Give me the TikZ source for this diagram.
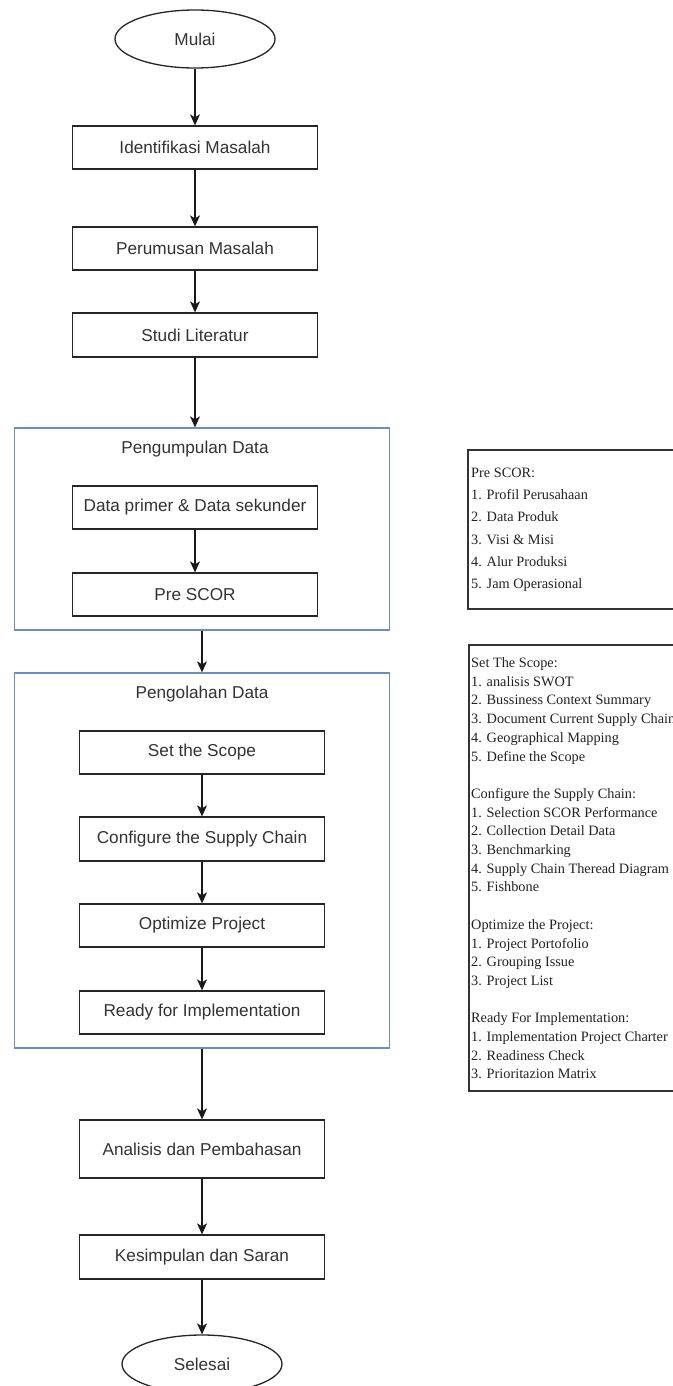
\documentclass[tikz,border=0pt]{standalone}
\usepackage{fontspec}
\setmainfont{Liberation Serif}
\newfontfamily\flowfont{Liberation Sans}
\usetikzlibrary{arrows.meta,shapes.geometric}

\definecolor{txtgray}{HTML}{333333}
\definecolor{notegray}{HTML}{222222}
\definecolor{grpblue}{HTML}{6C8EBF}

\tikzset{
  procbox/.style={draw=black!85, line width=1.3pt, rectangle,
    minimum width=245pt, minimum height=43pt, inner sep=0pt,
    text=txtgray, font=\flowfont\fontsize{17.2}{20}\selectfont},
  termbox/.style={procbox, ellipse, minimum width=160pt, minimum height=58pt},
  groupbox/.style={draw=grpblue, line width=1.3pt, rectangle,
    minimum width=375pt, inner sep=0pt},
  grouptitle/.style={text=txtgray, font=\flowfont\fontsize{17.2}{20}\selectfont},
  notebox/.style={draw=black!80, line width=1.5pt, fill=white},
  notetext/.style={text=notegray, inner sep=0pt, anchor=base west},
  flow/.style={line width=1.3pt, draw=black!90,
    -{Stealth[length=11pt, width=10pt, inset=3pt]}}
}

\begin{document}
\begin{tikzpicture}[x=1pt, y=1pt]
  \fill[white] (0,0) rectangle (672,-1386);
  \useasboundingbox (0,0) rectangle (672,-1386);

  % main sequence, upper part
  \node[termbox] (mulai) at (195,-39) {Mulai};
  \node[procbox] (ident) at (195,-147.5) {Identifikasi Masalah};
  \node[procbox] (perum) at (195,-248.5) {Perumusan Masalah};
  \node[procbox, minimum height=44pt] (studi) at (195,-335) {Studi Literatur};

  % data collection group
  \node[groupbox, minimum height=202pt] (g1) at (202,-529) {};
  \node[grouptitle] (g1t) at (195,-449) {Pengumpulan Data};
  \node[procbox] (data) at (195,-507.5) {Data primer \& Data sekunder};
  \node[procbox] (pre) at (195,-594.5) {Pre SCOR};

  % data processing group
  \node[groupbox, minimum height=375pt] (g2) at (202,-860.5) {};
  \node[grouptitle] (g2t) at (202,-694) {Pengolahan Data};
  \node[procbox] (scope) at (202,-752.5) {Set the Scope};
  \node[procbox, minimum height=44pt] (conf) at (202,-839) {Configure the Supply Chain};
  \node[procbox] (opt) at (202,-925.5) {Optimize Project};
  \node[procbox] (ready) at (202,-1012.5) {Ready for Implementation};

  % lower part
  \node[procbox, minimum height=58pt] (anal) at (202,-1149) {Analisis dan Pembahasan};
  \node[procbox, minimum height=44pt] (kes) at (202,-1257) {Kesimpulan dan Saran};
  \node[termbox] (selesai) at (202,-1364) {Selesai};

  % connectors
  \draw[flow] (mulai.south) -- (ident.north);
  \draw[flow] (ident) -- (perum);
  \draw[flow] (perum) -- (studi);
  \draw[flow] (studi.south) -- (studi.south |- g1.north);
  \draw[flow] (data) -- (pre);
  \draw[flow] (g1.south) -- (g2.north);
  \draw[flow] (scope) -- (conf);
  \draw[flow] (conf) -- (opt);
  \draw[flow] (opt) -- (ready);
  \draw[flow] (g2.south) -- (anal.north);
  \draw[flow] (anal) -- (kes);
  \draw[flow] (kes) -- (selesai);

  % notes on the right
  \draw[notebox] (468,-450) rectangle (720,-609);
  \node[notetext] (prenote) at (471,-477.5)
    {\parbox[t]{240pt}{\raggedright\fontsize{14.3}{22.2}\selectfont
     Pre SCOR:\\
     1. Profil Perusahaan\\
     2. Data Produk\\
     3. Visi \& Misi\\
     4. Alur Produksi\\
     5. Jam Operasional}};

  \draw[notebox] (469,-645) rectangle (720,-1091);
  \node[notetext] (procnote) at (471,-667.5)
    {\parbox[t]{240pt}{\raggedright\fontsize{14.3}{18.7}\selectfont
     Set The Scope:\\
     1. analisis SWOT\\
     2. Bussiness Context Summary\\
     3. Document Current Supply Chain\\
     4. Geographical Mapping\\
     5. Define the Scope\\[18.7pt]
     Configure the Supply Chain:\\
     1. Selection SCOR Performance\\
     2. Collection Detail Data\\
     3. Benchmarking\\
     4. Supply Chain Theread Diagram\\
     5. Fishbone\\[18.7pt]
     Optimize the Project:\\
     1. Project Portofolio\\
     2. Grouping Issue\\
     3. Project List\\[18.7pt]
     Ready For Implementation:\\
     1. Implementation Project Charter\\
     2. Readiness Check\\
     3. Prioritazion Matrix}};
\end{tikzpicture}
\end{document}
